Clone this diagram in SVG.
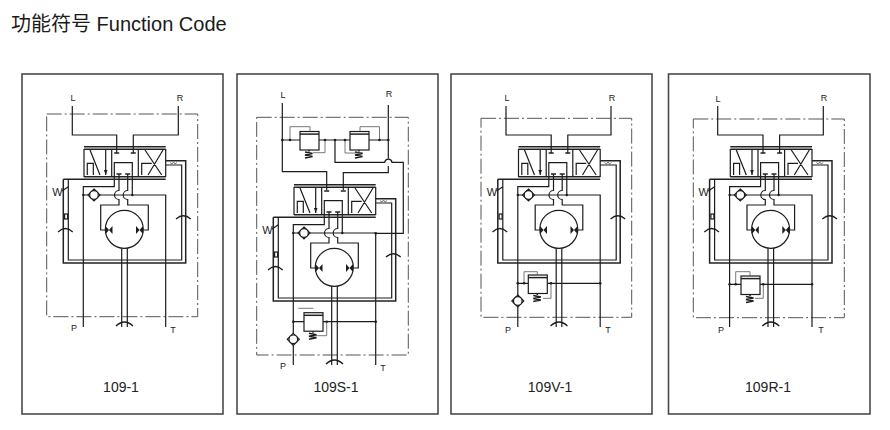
<svg xmlns="http://www.w3.org/2000/svg" width="890" height="430" viewBox="0 0 890 430">
<style>
.bg{fill:#fff}
.frame{fill:none;stroke:#4a4a4a;stroke-width:1.6}
.dash{fill:none;stroke:#555;stroke-width:1;stroke-dasharray:15 3 2 3}
.l{fill:none;stroke:#1c1c1c;stroke-width:1.2}
.h{fill:none;stroke:#222;stroke-width:1.5}
.s{fill:none;stroke:#1c1c1c;stroke-width:1.5}
.t{fill:none;stroke:#555;stroke-width:.8}
.w{fill:#fff;stroke:#1c1c1c;stroke-width:1.2}
.d{fill:#1c1c1c}
text{font-family:"Liberation Sans","Noto Sans CJK SC",sans-serif;fill:#222;text-anchor:middle}
.title{font-size:20px;text-anchor:start;fill:#1a1a1a}
.cap{font-size:14px}
.port{font-size:9px}
.wl{font-size:11px}
</style>
<defs>
<g id="check"><path class="w" d="M0-6 6 0 0 6-6 0Z"/><circle class="w" r="4.300"/></g>
<g id="relief">
<rect class="w" x="0" y="0" width="19" height="18.500"/>
<path class="h" d="M0 2.600H19"/>
<path class="s" d="M9 18.500V20M5 20.500 12.500 22 5 23.500 12.500 25 5 26.500"/>
</g>
<g id="core">
<path class="h" d="M64 76.700H145.700M64 79.300H145.700M64 106.700H145.700"/>
<path class="l" d="M64 79V107M91.700 79V107M118.300 79V107M145.700 79V107"/>
<path class="l" d="M70 80 80 105M67.300 105V93.300H73.300V105M85.700 80V105M94.300 106V92.700H112.300V106M125 80 141.700 105M143 80 128 105M121.700 105V93.300H131.700"/>
<path class="d" d="M83.900 100H87.500L85.700 105Z"/>
<path class="l" d="M99 104V120.500A4.500 4.500 0 0 0 99 129.500V135H80.700V160H86M107.700 104V120.500A4.500 4.500 0 0 0 107.700 129.500V135H128.300V160H117"/>
<path class="h" d="M96.500 104H101.500M105.200 104H110.200"/>
<path class="l" d="M112.300 106.700V125M94.300 106.700V116.700H63.300V257M63.300 125H145.700V257"/>
<circle class="d" cx="112.300" cy="125" r="1.200"/><circle class="d" cx="63.300" cy="125" r="1.200"/>
<use href="#check" x="74" y="125"/>
<path class="h" d="M43.300 109.300H145.700M43.300 109.300V193H165.700V90.700H145.700"/>
<path class="l" d="M48.300 109.300V190H161.700V95H145.700"/>
<rect class="w" x="44.600" y="144" width="3" height="5"/>
<path class="l" d="M38 162Q45.500 155 52.700 162M156 149Q163.500 142.500 170.700 149"/>
<text class="wl" x="37.500" y="126">W</text>
<path class="l" d="M42 121 48.300 116.700"/>
<path class="t" d="M150 92.500 152 94 153.500 92 155 94 157 92.500"/>
<circle class="w" cx="104.300" cy="159.300" r="19"/>
<path class="d" d="M85.500 156 89 160 85.500 164ZM92.500 156 89 160 92.500 164ZM116 156 119.500 160 116 164ZM123 156 119.500 160 123 164Z"/>
<path class="l" d="M101.700 178.300V257M107.300 178.300V257M96 256Q104.500 248 113 256M101.700 252H107.300"/>
</g>
<g id="ports"><path class="h" d="M94.200 83H99.200M110.800 83H115.800"/></g>
</defs>

<rect class="bg" width="890" height="430"/>
<text class="title" x="11" y="31">功能符号 Function Code</text>

<g id="panel-109-1">
<rect class="frame" x="22" y="74" width="201" height="340"/>
<rect class="dash" x="46.700" y="114" width="151" height="202.700"/>
<use href="#core" transform="translate(20 70)"/>
<use href="#ports" transform="translate(20 70)"/>
<path class="l" d="M72.300 106V135H116.700V153M178.300 106V135H133.300V153"/>
<text class="port" x="73" y="101">L</text><text class="port" x="180" y="101">R</text>
<text class="port" x="74" y="331">P</text><text class="port" x="173" y="333">T</text>
<text class="cap" x="121" y="391.500">109-1</text>
</g>

<g id="panel-109S-1">
<rect class="frame" x="237" y="74" width="201" height="340"/>
<rect class="dash" x="256.700" y="117.300" width="151.600" height="237.700"/>
<use href="#core" transform="translate(230 108)"/>
<use href="#ports" transform="translate(230 108)"/>
<path class="l" d="M282.300 103V171.700H326.700V190M388.300 105V158.500M388.300 166V172.700H343.300V190M282.300 140H300M318.300 140H350M369 140H388.300"/>
<path class="l" d="M335 140V162.300H384.700A3.700 3.700 0 0 1 392 162.300H403.300V233.300H375.700"/>
<use href="#relief" x="300" y="131.500"/>
<use href="#relief" x="350" y="131.500"/>
<path class="t" d="M290 140V126.700H310V131.500M325 140V152.700H313M345 140V153H363M379.500 140V126.700H360V131.500"/>
<g class="d"><circle cx="282.300" cy="140" r="1.300"/><circle cx="290" cy="140" r="1.300"/><circle cx="325" cy="140" r="1.300"/><circle cx="335" cy="140" r="1.300"/><circle cx="345" cy="140" r="1.300"/><circle cx="379.500" cy="140" r="1.300"/><circle cx="388.300" cy="140" r="1.300"/><circle cx="375.700" cy="233.300" r="1.300"/><circle cx="293.300" cy="321.700" r="1.300"/><circle cx="326.700" cy="321.700" r="1.300"/><circle cx="375.700" cy="321.700" r="1.300"/></g>
<path class="l" d="M293.300 321.700H304M322.700 321.700H375.700"/>
<use href="#relief" x="304" y="312.700"/>
<path class="t" d="M298.300 308.300H313.300M326.700 321.700V335.700H315"/>
<use href="#check" x="293.300" y="339.300"/>
<text class="port" x="283" y="98">L</text><text class="port" x="389" y="97">R</text>
<text class="port" x="283" y="369">P</text><text class="port" x="383" y="371">T</text>
<text class="cap" x="336" y="391.500">109S-1</text>
</g>

<g id="panel-109V-1">
<rect class="frame" x="451" y="74" width="201" height="340"/>
<rect class="dash" x="481" y="118.300" width="150.700" height="199"/>
<use href="#core" transform="translate(454.500 70)"/>
<use href="#ports" transform="translate(454.500 70)"/>
<path class="l" d="M506 106V135H551.200V153M611 106V135H567.800V153M517.800 283.300H528.300M547.300 283.300H600.200"/>
<use href="#relief" x="528.300" y="275"/>
<path class="t" d="M524 283.300V271.700H537.300V275M551 283.300V298.300H543"/>
<g class="d"><circle cx="517.800" cy="283.300" r="1.300"/><circle cx="524" cy="283.300" r="1.300"/><circle cx="551" cy="283.300" r="1.300"/><circle cx="600.200" cy="283.300" r="1.300"/></g>
<use href="#check" x="517.800" y="301"/>
<text class="port" x="507" y="101">L</text><text class="port" x="612" y="101">R</text>
<text class="port" x="508" y="333">P</text><text class="port" x="608" y="333">T</text>
<text class="cap" x="550" y="391.500">109V-1</text>
</g>

<g id="panel-109R-1">
<rect class="frame" x="668.500" y="74" width="201.500" height="340"/>
<rect class="dash" x="693.300" y="119" width="151" height="198.700"/>
<use href="#core" transform="translate(666.300 70)"/>
<use href="#ports" transform="translate(666.300 70)"/>
<path class="l" d="M717.700 106V135H763V153M823.300 106V135H779.600V153M729.600 284.300H741M760 284.300H812"/>
<use href="#relief" x="741" y="276"/>
<path class="t" d="M735.700 284.300V271.700H750V276M763.300 284.300V298.300H755"/>
<g class="d"><circle cx="729.600" cy="284.300" r="1.300"/><circle cx="735.700" cy="284.300" r="1.300"/><circle cx="763.300" cy="284.300" r="1.300"/><circle cx="812" cy="284.300" r="1.300"/></g>
<text class="port" x="718" y="102">L</text><text class="port" x="824" y="101">R</text>
<text class="port" x="721" y="333">P</text><text class="port" x="821" y="333">T</text>
<text class="cap" x="768" y="391.500">109R-1</text>
</g>
</svg>
